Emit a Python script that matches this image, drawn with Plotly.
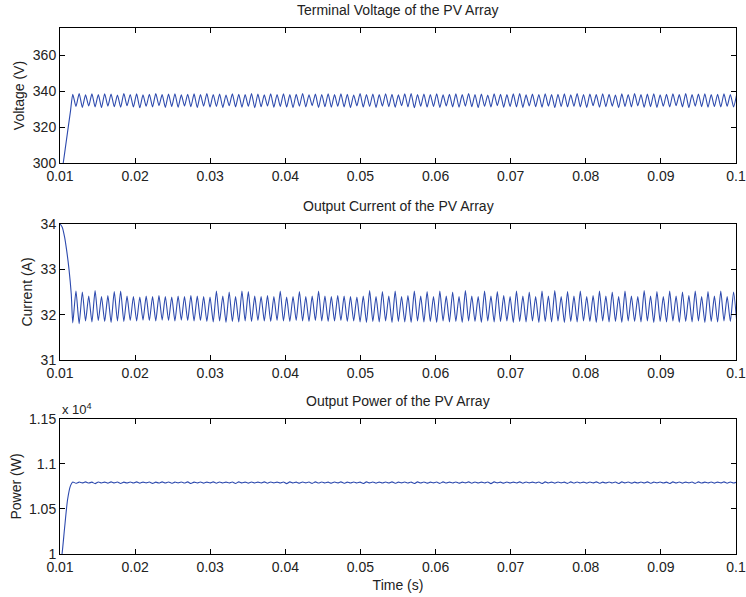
import plotly.graph_objects as go
from plotly.subplots import make_subplots

# ---- startup transients (time in s) ----
v_start_t = [0.0100, 0.0104, 0.0110, 0.0114]
v_start = [287.0, 299.0, 317.0, 329.0]

i_start_t = [0.0100, 0.0103, 0.0106, 0.0109, 0.0112, 0.0115, 0.0117]
i_start = [34.00, 33.93, 33.72, 33.40, 33.00, 32.45, 31.82]

p_start_t = [0.0100, 0.01027, 0.0106, 0.0110, 0.0114]
p_start = [9880, 10000, 10280, 10600, 10760]

# ---- steady-state ripple: first extreme time and half-period of the ripple ----
ripple_t0 = 0.0117
ripple_half = 0.000425

voltage_peaks = [
    338.2, 338.6, 337.9, 338.4, 338.0, 338.5, 338.3, 337.8, 338.6, 338.1,
    338.4, 337.9, 338.2, 338.6, 338.0, 338.3, 338.5, 337.9, 338.2, 338.4,
    338.0, 338.6, 338.1, 338.3, 337.8, 338.5, 338.2, 338.0, 338.6, 338.3,
    337.9, 338.4, 338.1, 338.5, 338.0, 338.2, 338.6, 337.9, 338.3, 338.1,
    338.5, 338.0, 338.4, 338.2, 337.8, 338.6, 338.1, 338.3, 338.0, 338.5,
    338.2, 337.9, 338.4, 338.6, 338.0, 338.3, 338.1, 338.5, 337.9, 338.2,
    338.4, 338.0, 338.6, 338.1, 338.3, 337.8, 338.5, 338.2, 338.0, 338.4,
    338.6, 337.9, 338.3, 338.1, 338.5, 338.0, 338.2, 338.4, 337.9, 338.6,
    338.1, 338.3, 338.0, 338.5, 338.2, 337.8, 338.4, 338.1, 338.6, 338.0,
    338.3, 338.5, 337.9, 338.2, 338.4, 338.0, 338.6, 338.1, 338.3, 338.5,
    338.0, 338.2, 338.4, 338.1, 338.3,
]
voltage_troughs = [
    331.4, 330.9, 331.7, 331.2, 330.8, 331.6, 331.3, 331.0, 331.8, 331.1,
    330.7, 331.5, 331.2, 331.9, 330.9, 331.4, 331.0, 331.7, 331.3, 330.8,
    331.6, 331.1, 331.4, 330.9, 331.8, 331.2, 331.0, 331.5, 330.7, 331.3,
    331.7, 331.0, 331.4, 331.1, 330.8, 331.6, 331.2, 331.9, 330.9, 331.3,
    331.0, 331.5, 331.2, 330.8, 331.7, 331.1, 331.4, 330.9, 331.6, 331.3,
    331.0, 331.8, 331.2, 330.7, 331.5, 331.1, 331.4, 330.9, 331.7, 331.2,
    331.0, 331.6, 331.3, 330.8, 331.5, 331.1, 331.9, 331.0, 331.4, 331.2,
    330.9, 331.7, 331.3, 331.0, 331.6, 330.8, 331.4, 331.1, 331.5, 331.2,
    330.9, 331.8, 331.0, 331.3, 331.6, 330.8, 331.4, 331.2, 331.7, 331.0,
    331.3, 330.9, 331.5, 331.1, 331.8, 331.2, 330.8, 331.6, 331.3, 331.0,
    331.4, 331.1, 331.5, 331.2,
]

current_peaks = [
    32.52, 32.50, 32.41, 32.53, 32.40, 32.42, 32.51, 32.52, 32.41, 32.40,
    32.39, 32.41, 32.40, 32.42, 32.40, 32.39, 32.41, 32.40, 32.42, 32.41,
    32.40, 32.39, 32.52, 32.41, 32.50, 32.40, 32.52, 32.51, 32.41, 32.40,
    32.42, 32.40, 32.52, 32.39, 32.40, 32.51, 32.40, 32.41, 32.52, 32.41,
    32.40, 32.42, 32.41, 32.40, 32.39, 32.41, 32.53, 32.40, 32.51, 32.41,
    32.52, 32.40, 32.42, 32.52, 32.41, 32.51, 32.40, 32.52, 32.41, 32.50,
    32.40, 32.53, 32.41, 32.40, 32.52, 32.41, 32.51, 32.42, 32.40, 32.52,
    32.41, 32.50, 32.40, 32.52, 32.41, 32.53, 32.40, 32.51, 32.41, 32.52,
    32.40, 32.42, 32.52, 32.41, 32.50, 32.40, 32.52, 32.41, 32.40, 32.53,
    32.41, 32.51, 32.40, 32.52, 32.41, 32.50, 32.42, 32.52, 32.40, 32.51,
    32.41, 32.52, 32.40, 32.50,
]
current_troughs = [
    31.80, 31.86, 31.84, 31.87, 31.85, 31.83, 31.86, 31.85, 31.87, 31.86,
    31.88, 31.87, 31.86, 31.88, 31.87, 31.86, 31.88, 31.87, 31.86, 31.87,
    31.85, 31.84, 31.86, 31.83, 31.85, 31.84, 31.86, 31.85, 31.87, 31.86,
    31.85, 31.87, 31.86, 31.85, 31.87, 31.86, 31.85, 31.87, 31.86, 31.85,
    31.86, 31.87, 31.85, 31.86, 31.84, 31.83, 31.85, 31.84, 31.86, 31.83,
    31.85, 31.84, 31.83, 31.86, 31.84, 31.85, 31.83, 31.86, 31.84, 31.85,
    31.83, 31.86, 31.85, 31.83, 31.86, 31.84, 31.85, 31.86, 31.83, 31.85,
    31.84, 31.86, 31.83, 31.85, 31.84, 31.86, 31.83, 31.85, 31.84, 31.86,
    31.85, 31.83, 31.86, 31.84, 31.85, 31.83, 31.86, 31.85, 31.84, 31.86,
    31.83, 31.85, 31.84, 31.86, 31.83, 31.85, 31.84, 31.86, 31.83, 31.85,
    31.84, 31.86, 31.85, 31.84,
]

power_peaks = [
    10800, 10799, 10801, 10798, 10800, 10799, 10801, 10800, 10798, 10800,
    10801, 10799, 10800, 10798, 10801, 10800, 10799, 10800, 10801, 10798,
    10800, 10799, 10801, 10800, 10798, 10800, 10801, 10799, 10800, 10798,
    10801, 10800, 10799, 10800, 10801, 10798, 10800, 10799, 10801, 10800,
    10798, 10800, 10801, 10799, 10800, 10798, 10801, 10800, 10799, 10800,
    10801, 10798, 10800, 10799, 10801, 10800, 10798, 10800, 10801, 10799,
    10800, 10798, 10801, 10800, 10799, 10800, 10801, 10798, 10800, 10799,
    10801, 10800, 10798, 10800, 10801, 10799, 10800, 10798, 10801, 10800,
    10799, 10800, 10801, 10798, 10800, 10799, 10801, 10800, 10798, 10800,
    10801, 10799, 10800, 10798, 10801, 10800, 10799, 10800, 10801, 10798,
    10800, 10799, 10801, 10800, 10799,
]
power_troughs = [
    10786, 10790, 10788, 10782, 10789, 10787, 10790, 10784, 10788, 10789,
    10787, 10790, 10785, 10788, 10789, 10786, 10790, 10788, 10783, 10789,
    10787, 10790, 10786, 10788, 10789, 10784, 10790, 10787, 10788, 10789,
    10786, 10790, 10788, 10782, 10789, 10787, 10790, 10785, 10788, 10789,
    10787, 10790, 10786, 10788, 10789, 10783, 10790, 10787, 10788, 10789,
    10786, 10790, 10788, 10784, 10789, 10787, 10790, 10785, 10788, 10789,
    10787, 10790, 10786, 10788, 10789, 10782, 10790, 10787, 10788, 10789,
    10786, 10790, 10788, 10784, 10789, 10787, 10790, 10785, 10788, 10789,
    10787, 10790, 10786, 10788, 10789, 10783, 10790, 10787, 10788, 10789,
    10786, 10790, 10788, 10784, 10789, 10787, 10790, 10785, 10788, 10789,
    10787, 10790, 10786, 10788,
]

titles = [
    "Terminal Voltage of the PV Array",
    "Output Current of the PV Array",
    "Output Power of the PV Array",
]
y_labels = ["Voltage (V)", "Current (A)", "Power (W)"]
x_ticks = [0.01, 0.02, 0.03, 0.04, 0.05, 0.06, 0.07, 0.08, 0.09, 0.1]
x_tick_text = ["0.01", "0.02", "0.03", "0.04", "0.05", "0.06", "0.07", "0.08", "0.09", "0.1"]
v_ticks = [300, 320, 340, 360]
i_ticks = [31, 32, 33, 34]
p_ticks = [10000, 10500, 11000, 11500]
p_tick_text = ["1", "1.05", "1.1", "1.15"]


def ripple(first, second, start_index):
    """Interleave alternating extremes onto the ripple time grid."""
    ts, ys = [], []
    k = start_index
    for a_idx in range(max(len(first), len(second))):
        if a_idx < len(first):
            ts.append(ripple_t0 + k * ripple_half)
            ys.append(first[a_idx])
            k += 1
        if a_idx < len(second):
            ts.append(ripple_t0 + k * ripple_half)
            ys.append(second[a_idx])
            k += 1
    return ts, ys


vt, vy = ripple(voltage_peaks, voltage_troughs, 0)
it, iy = ripple(current_peaks, current_troughs, 1)
pt, py = ripple(power_peaks, power_troughs, 0)

series = [
    (v_start_t + vt, v_start + vy),
    (i_start_t + it, i_start + iy),
    (p_start_t + pt, p_start + py),
]

LINE = "#2d4aae"
FONT = "Liberation Sans, Arial, sans-serif"
TEXT = "#222"

fig = make_subplots(rows=3, cols=1, shared_xaxes=False)
for r, (tx, ty) in enumerate(series, start=1):
    fig.add_trace(
        go.Scatter(x=tx, y=ty, mode="lines",
                   line=dict(color=LINE, width=1.1, shape="spline", smoothing=0.6),
                   showlegend=False, hoverinfo="skip"),
        row=r, col=1,
    )

domains = [[0.7433, 1.0], [0.3688, 0.6274], [0.0, 0.2567]]
y_ranges = [[300, 375], [31, 34], [10000, 11500]]
y_tickvals = [v_ticks, i_ticks, p_ticks]
y_ticktext = [[str(v) for v in v_ticks], [str(v) for v in i_ticks], p_tick_text]

axis_common = dict(
    showline=True, linecolor="black", linewidth=1, mirror="ticks",
    ticks="inside", ticklen=5, tickcolor="black", showgrid=False, zeroline=False,
    tickfont=dict(family=FONT, size=14, color=TEXT), automargin=False,
)

for r in range(3):
    sfx = "" if r == 0 else str(r + 1)
    fig.layout["xaxis" + sfx].update(
        range=[0.01, 0.1], tickvals=x_ticks, ticktext=x_tick_text, **axis_common
    )
    fig.layout["yaxis" + sfx].update(
        domain=domains[r], range=y_ranges[r], tickvals=y_tickvals[r], ticktext=y_ticktext[r],
        title=dict(text=y_labels[r], font=dict(family=FONT, size=14, color=TEXT), standoff=4),
        **axis_common,
    )

fig.layout.xaxis3.update(title=dict(text="Time (s)", font=dict(family=FONT, size=14, color=TEXT), standoff=6))

title_y = [1.0, 0.6274, 0.2567]
for txt, yy in zip(titles, title_y):
    fig.add_annotation(text=txt, x=0.5, xref="paper", y=yy, yref="paper", yanchor="bottom",
                       yshift=8, showarrow=False, font=dict(family=FONT, size=14, color=TEXT))

fig.add_annotation(text="x 10<sup>4</sup>", x=0.0, xref="paper", y=0.2567, yref="paper",
                   xanchor="left", yanchor="bottom", yshift=0, showarrow=False,
                   font=dict(family=FONT, size=13, color=TEXT))

fig.update_layout(
    width=746, height=597, plot_bgcolor="white", paper_bgcolor="white",
    margin=dict(l=60, r=10, t=28, b=43),
)

fig.write_html("out.html")
